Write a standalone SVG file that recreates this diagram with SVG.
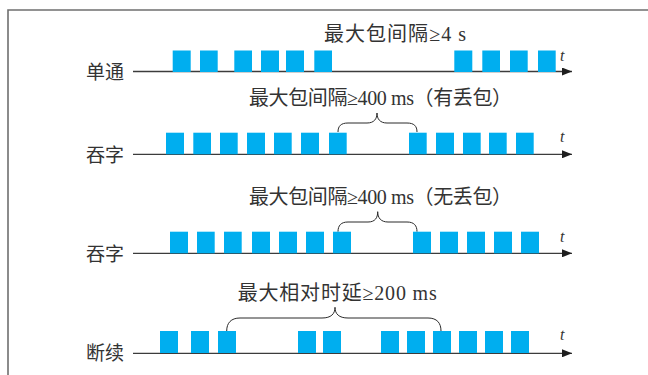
<svg xmlns="http://www.w3.org/2000/svg" width="648" height="375" viewBox="0 0 648 375">
<style>
.frame{stroke:#6f6f6f;stroke-width:1.6;fill:none}
.axis{stroke:#3c3c3c;stroke-width:1.3;fill:none}
.pkt{fill:#00aeef}
.brace{stroke:#2a2a2a;stroke-width:1;fill:none}
.lbl{font-family:"Liberation Serif","Noto Sans CJK SC",serif;font-size:19px;fill:#333}
.ttl{font-family:"Liberation Serif","Noto Sans CJK SC",serif;font-size:20px;fill:#333}
.t{font-family:"Liberation Serif",serif;font-style:italic;font-size:16px;fill:#333}
</style>
<defs>
<marker id="arr" viewBox="0 0 10 8" refX="10" refY="4" markerWidth="10" markerHeight="8" markerUnits="userSpaceOnUse" orient="auto">
<path d="M0,0 L10,4 L0,8 Z" fill="#1e1e1e"/>
</marker>
</defs>
<rect width="648" height="375" fill="#fff"/>
<path class="frame" d="M7.5,10 H648 M8,9.2 V375"/>

<g id="connectors">
<line class="axis" x1="133" y1="71.5" x2="572" y2="71.5" marker-end="url(#arr)"/>
<line class="axis" x1="133" y1="154.3" x2="572" y2="154.3" marker-end="url(#arr)"/>
<line class="axis" x1="133" y1="253.3" x2="572" y2="253.3" marker-end="url(#arr)"/>
<line class="axis" x1="133" y1="353.3" x2="572" y2="353.3" marker-end="url(#arr)"/>
<path class="brace" d="M338,132 C338,126 341,123 348,123 L367,123 C374,123 377,119 377,113 C377,119 380,123 387,123 L407,123 C414,123 417,126 417,132"/>
<path class="brace" d="M338,231.7 C338,225.5 341,222 348,222 L368,222 C375,222 377.7,218 377.7,211.7 C377.7,218 381,222 388,222 L407,222 C414,222 417,225.5 417,231.7"/>
<path class="brace" d="M226.7,331 C226.7,323 231,318 240,318 L322,318 C331,318 335,314 335,307.3 C335,314 339,318 348,318 L428,318 C437,318 441,323 441,331"/>
</g>

<g id="row1">
<text class="lbl" x="86" y="78.5">单通</text>
<text class="ttl" x="324" y="41" textLength="142" lengthAdjust="spacing">最大包间隔≥4 s</text>
<text class="t" x="560" y="61">t</text>
<rect class="pkt" x="172.7" y="50.5" width="18" height="21.5"/>
<rect class="pkt" x="200" y="50.5" width="17.7" height="21.5"/>
<rect class="pkt" x="234.3" y="50.5" width="17.7" height="21.5"/>
<rect class="pkt" x="261" y="50.5" width="18" height="21.5"/>
<rect class="pkt" x="286" y="50.5" width="18" height="21.5"/>
<rect class="pkt" x="314.3" y="50.5" width="17.7" height="21.5"/>
<rect class="pkt" x="454.3" y="50.5" width="18" height="21.5"/>
<rect class="pkt" x="482.3" y="50.5" width="17.7" height="21.5"/>
<rect class="pkt" x="510" y="50.5" width="17.7" height="21.5"/>
<rect class="pkt" x="538" y="50.5" width="17.7" height="21.5"/>
</g>

<g id="row2">
<text class="lbl" x="86" y="162.3">吞字</text>
<text class="ttl" x="249" y="105" textLength="263" lengthAdjust="spacing">最大包间隔≥400 ms（有丢包）</text>
<text class="t" x="560" y="142">t</text>
<rect class="pkt" x="166" y="132.7" width="18" height="21.6"/>
<rect class="pkt" x="193.3" y="132.7" width="17.7" height="21.6"/>
<rect class="pkt" x="220" y="132.7" width="17.7" height="21.6"/>
<rect class="pkt" x="247" y="132.7" width="18" height="21.6"/>
<rect class="pkt" x="274" y="132.7" width="17.7" height="21.6"/>
<rect class="pkt" x="301" y="132.7" width="18" height="21.6"/>
<rect class="pkt" x="329" y="132.7" width="17.7" height="21.6"/>
<rect class="pkt" x="409" y="132.7" width="17.7" height="21.6"/>
<rect class="pkt" x="436" y="132.7" width="18" height="21.6"/>
<rect class="pkt" x="463" y="132.7" width="17.7" height="21.6"/>
<rect class="pkt" x="489" y="132.7" width="17.7" height="21.6"/>
<rect class="pkt" x="516" y="132.7" width="17.7" height="21.6"/>
</g>

<g id="row3">
<text class="lbl" x="86" y="261">吞字</text>
<text class="ttl" x="249" y="204" textLength="263" lengthAdjust="spacing">最大包间隔≥400 ms（无丢包）</text>
<text class="t" x="560" y="241.5">t</text>
<rect class="pkt" x="170" y="231.7" width="18" height="21.6"/>
<rect class="pkt" x="197" y="231.7" width="17.7" height="21.6"/>
<rect class="pkt" x="224" y="231.7" width="17.7" height="21.6"/>
<rect class="pkt" x="252" y="231.7" width="18" height="21.6"/>
<rect class="pkt" x="279" y="231.7" width="18" height="21.6"/>
<rect class="pkt" x="306" y="231.7" width="18" height="21.6"/>
<rect class="pkt" x="333" y="231.7" width="18" height="21.6"/>
<rect class="pkt" x="413" y="231.7" width="18" height="21.6"/>
<rect class="pkt" x="440" y="231.7" width="18" height="21.6"/>
<rect class="pkt" x="467" y="231.7" width="18" height="21.6"/>
<rect class="pkt" x="494" y="231.7" width="18" height="21.6"/>
<rect class="pkt" x="521" y="231.7" width="18" height="21.6"/>
</g>

<g id="row4">
<text class="lbl" x="86" y="360">断续</text>
<text class="ttl" x="237.7" y="299.5" textLength="199" lengthAdjust="spacing">最大相对时延≥200 ms</text>
<text class="t" x="560" y="340">t</text>
<rect class="pkt" x="160" y="331" width="18" height="22"/>
<rect class="pkt" x="191" y="331" width="18" height="22"/>
<rect class="pkt" x="218" y="331" width="18" height="22"/>
<rect class="pkt" x="298" y="331" width="18" height="22"/>
<rect class="pkt" x="323" y="331" width="18" height="22"/>
<rect class="pkt" x="381" y="331" width="18" height="22"/>
<rect class="pkt" x="407" y="331" width="18" height="22"/>
<rect class="pkt" x="433" y="331" width="18" height="22"/>
<rect class="pkt" x="459" y="331" width="18" height="22"/>
<rect class="pkt" x="485" y="331" width="18" height="22"/>
<rect class="pkt" x="511" y="331" width="18" height="22"/>
</g>
</svg>
